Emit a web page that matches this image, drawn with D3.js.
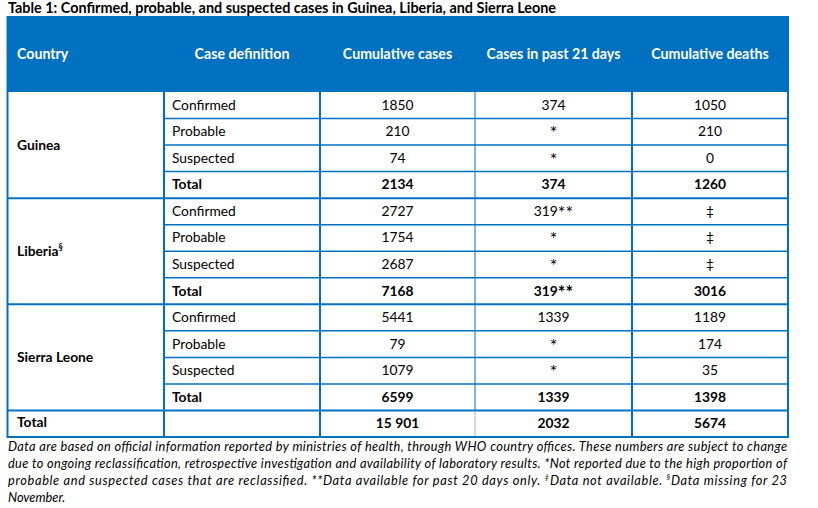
<!DOCTYPE html>
<html><head><meta charset="utf-8">
<script src="https://cdn.jsdelivr.net/npm/d3@7"></script>
<style>
html,body{margin:0;padding:0;background:#fff;}
svg{display:block;font-family:Lato,"Open Sans",sans-serif;}
</style></head>
<body><svg id="c" width="818" height="508"></svg>
<script>
const title = "Table 1: Confirmed, probable, and suspected cases in Guinea, Liberia, and Sierra Leone";
const headers = ["Country","Case definition","Cumulative cases","Cases in past 21 days","Cumulative deaths"];
const countries = ["Guinea","Liberia","Sierra Leone"];
const countryMarks = ["","§",""];
const caseDefs = ["Confirmed","Probable","Suspected","Total"];
const cumulativeCases = [[1850,210,74,2134],[2727,1754,2687,7168],[5441,79,1079,6599]];
const casesPast21 = [["374","*","*","374"],["319**","*","*","319**"],["1339","*","*","1339"]];
const cumulativeDeaths = [["1050","210","0","1260"],["‡","‡","‡","3016"],["1189","174","35","1398"]];
const totalLabel = "Total";
const grandTotals = ["15 901","2032","5674"];
const footLines = [
  [["Data are based on official information reported by ministries of health, through WHO country offices. These numbers are subject to change",false]],
  [["due to ongoing reclassification, retrospective investigation and availability of laboratory results. *Not reported due to the high proportion of",false]],
  [["probable and suspected cases that are reclassified. **Data available for past 20 days only. ",false],["‡",true],["Data not available. ",false],["§",true],["Data missing for 23",false]],
  [["November.",false]]
];

const svg = d3.select("#c");
const blue = "#0070C0";
const ink = "#000";
const colEdges = [7.5,164,320,475,632,788];
const nRows = countries.length*caseDefs.length + 1;
const y = d3.scaleLinear().domain([0,nRows]).range([92,437]);
const colMid = i => (colEdges[i]+colEdges[i+1])/2;

svg.append("rect").attr("width",818).attr("height",508).attr("fill","#fff");

svg.append("text").attr("x",8).attr("y",13).attr("font-weight","bold")
  .attr("font-size",14.4).attr("fill",ink).text(title);

svg.append("rect").attr("x",7).attr("y",17).attr("width",782).attr("height",75).attr("fill",blue);
svg.selectAll("text.h").data(headers).join("text").attr("class","h")
  .attr("x",(d,i)=> i===0 ? 17 : colMid(i))
  .attr("y",59)
  .attr("text-anchor",(d,i)=> i===0 ? "start":"middle")
  .attr("font-size",14.2).attr("font-weight","bold").attr("fill","#fff").text(d=>d);

const rows = [];
countries.forEach((c,ci)=>{
  caseDefs.forEach((cd,ri)=>{
    rows.push({idx: ci*4+ri, def: cd, bold: cd==="Total",
      vals:[String(cumulativeCases[ci][ri]), casesPast21[ci][ri], cumulativeDeaths[ci][ri]]});
  });
});
rows.push({idx: nRows-1, def:"", bold:true, vals: grandTotals, grand:true});

const g = svg.append("g").attr("font-size",13.8).attr("fill",ink);
rows.forEach(r=>{
  const cy = (y(r.idx)+y(r.idx+1))/2 + 4.5;
  if(r.def) g.append("text").attr("x",172).attr("y",cy).attr("font-weight",r.bold?"bold":"normal").text(r.def);
  r.vals.forEach((v,k)=>{
    const t = g.append("text").attr("x",colMid(k+2)).attr("y",cy).attr("text-anchor","middle")
     .attr("font-weight",r.bold?"bold":"normal");
    const m = v.match(/^([^*]*)(\**)$/);
    if(m && m[2]){
      if(m[1]) t.append("tspan").text(m[1]);
      t.append("tspan").attr("font-size",18).attr("dy",3).text(m[2]);
    } else t.text(v);
  });
});
countries.forEach((c,ci)=>{
  const cy = (y(ci*4)+y(ci*4+4))/2 + 4.5;
  const t = g.append("text").attr("x",17).attr("y",cy).attr("font-weight","bold").text(c);
  if(countryMarks[ci]) t.append("tspan").attr("font-size",8.5).attr("dy",-6).text(countryMarks[ci]);
});
g.append("text").attr("x",17).attr("y",(y(nRows-1)+y(nRows))/2+3.5).attr("font-weight","bold").text(totalLabel);

const lines = svg.append("g").attr("stroke",blue).attr("fill","none");
for(let i=1;i<nRows;i++){
  const isGroup = (i%4===0);
  lines.append("line").attr("x1", isGroup? colEdges[0]:colEdges[1]).attr("x2",colEdges[5])
    .attr("y1",y(i)).attr("y2",y(i)).attr("stroke-width", isGroup?2:1.5);
}
[[1,2],[2,2],[3,1],[4,2]].forEach(([k,w])=>{
  lines.append("line").attr("x1",colEdges[k]).attr("x2",colEdges[k])
   .attr("y1",y(0)).attr("y2",k===3? y(nRows-1): y(nRows)).attr("stroke-width",w);
});
lines.append("line").attr("x1",colEdges[3]).attr("x2",colEdges[3])
  .attr("y1",y(nRows-1)).attr("y2",y(nRows)).attr("stroke","#8c9fb8").attr("stroke-width",0.8);
lines.append("rect").attr("x",colEdges[0]).attr("y",17).attr("width",colEdges[5]-colEdges[0])
  .attr("height",y(nRows)-17).attr("stroke-width",2);

const fy = [450.5,467.5,484.5,501.5];
footLines.forEach((parts,li)=>{
  const t = svg.append("text").attr("x",8).attr("y",fy[li]).attr("font-size",12.8)
    .attr("font-style","italic").attr("fill",ink);
  if(li<3) t.attr("textLength",779).attr("lengthAdjust","spacing");
  parts.forEach(([s,sup])=>{
    const sp = t.append("tspan").text(s);
    if(sup) sp.attr("font-size",8).attr("baseline-shift","super");
  });
});
</script></body></html>
